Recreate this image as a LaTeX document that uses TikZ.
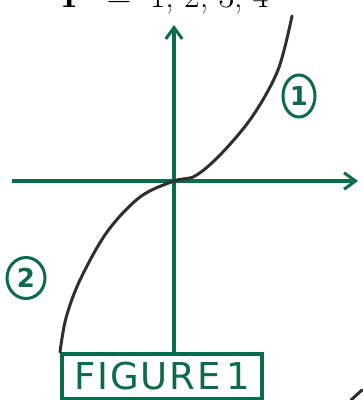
\documentclass[tikz,border=0pt]{standalone}
\usepackage{fontspec}
\usepackage{tikz}
\usetikzlibrary{arrows.meta,positioning,calc,shapes.geometric}
\newfontfamily\handfont{DejaVu Sans}
\definecolor{ink}{HTML}{2E2E33}
\definecolor{marker}{HTML}{0C6B48}
\tikzset{
  >={Straight Barb[length=4mm,width=5.8mm,line width=3pt]},
  axis/.style={->,line width=3.6pt,color=marker},
  graphline/.style={line width=3pt,color=ink,line cap=round},
  tag/.style={draw=marker,line width=3pt,text=marker,inner sep=0pt,
    font=\handfont\bfseries\fontsize{26}{26}\selectfont},
  framebox/.style={draw=marker,line width=3.6pt,text=marker,inner sep=0pt,
    minimum width=200pt,minimum height=45pt,font=\handfont\fontsize{37}{37}\selectfont},
}
\newcommand{\gap}{\kern2pt}

\begin{document}
\begin{tikzpicture}[x=1pt,y=-1pt]
  \useasboundingbox (0,0) rectangle (363,400);
  \clip (0,0) rectangle (363,400);
  % title, cut off by the top edge
  \node[anchor=base west,inner sep=0pt,font=\fontsize{34}{34}\selectfont] (title) at (62,7)
    {\textbf{P}\hspace{18.5pt}=\hspace{18.5pt}1, 2, 3, 4};
  % axes
  \node[framebox,anchor=north west] (fig) at (60,352)
    {F\gap I\gap G\gap U\gap R\gap E\kern5pt 1};
  \coordinate (origin) at (174,181);
  \coordinate (xstart) at (12,181);
  \coordinate (xend) at (358,181);
  \coordinate (ytop) at (174,25);
  \draw[axis] (xstart) -- (xend);
  \draw[axis] (fig.north -| origin) -- (ytop);
  % the curve
  \draw[graphline] plot[smooth,tension=0.55] coordinates
    {(fig.north west) (66,318) (80,280) (107,232) (140,197) (origin)
     (195,176) (220,155) (252,117) (278,70) (292,16)};
  \node[tag,ellipse,minimum width=32pt,minimum height=42pt] (one) at (299,96) {1};
  \node[tag,ellipse,minimum width=38pt,minimum height=41pt] (two) at (26,278) {2};
  % stray stroke at the corner
  \coordinate (stroke1) at (351,400);
  \coordinate (stroke2) at (362,390);
  \draw[graphline] (stroke1) -- (stroke2);
\end{tikzpicture}
\end{document}
